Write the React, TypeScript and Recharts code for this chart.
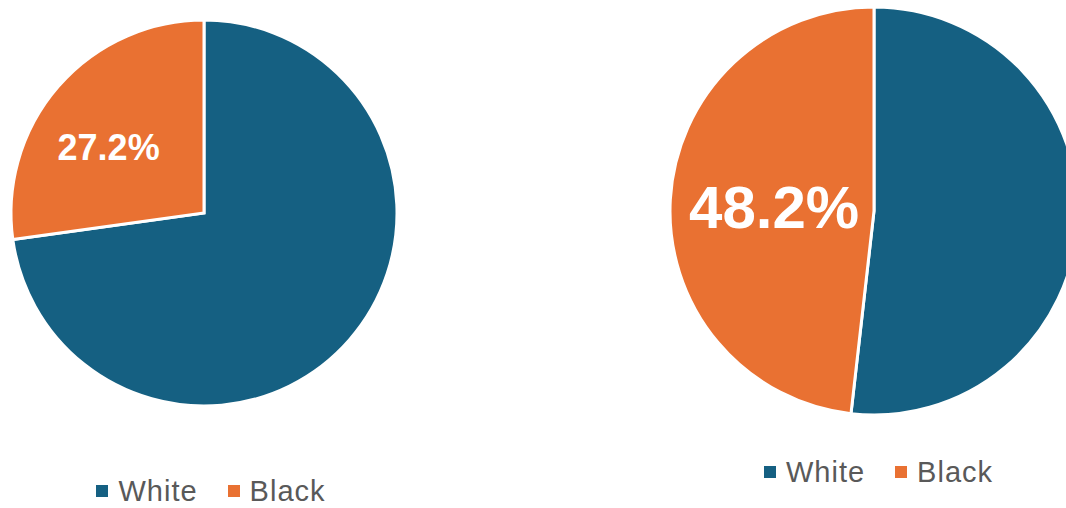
import { Cell, Legend, Pie, PieChart } from 'recharts';

const categories = ['White', 'Black'];
const leftValues = [72.8, 27.2];
const rightValues = [51.8, 48.2];
const colors = ['#156082', '#E97132'];

const RAD = Math.PI / 180;

function makeLabel(fraction: number, angleShift: number, fontSize: number) {
  return (props: any) => {
    const { cx, cy, midAngle, outerRadius, payload } = props;
    if (payload.name !== 'Black') return null;
    const r = outerRadius * fraction;
    const a = midAngle + angleShift;
    const x = cx + r * Math.cos(-a * RAD);
    const y = cy + r * Math.sin(-a * RAD);
    return (
      <text
        x={x}
        y={y}
        fill="#ffffff"
        fontSize={fontSize}
        fontWeight={700}
        fontFamily="Liberation Sans, Arial, sans-serif"
        textAnchor="middle"
        dominantBaseline="central"
      >
        {payload.value.toFixed(1)}%
      </text>
    );
  };
}

function LegendContent() {
  return (
    <div style={{ display: 'flex', justifyContent: 'center', gap: 30 }}>
      {categories.map((name, i) => (
        <div key={name} style={{ display: 'flex', alignItems: 'center' }}>
          <span style={{ width: 12, height: 12, background: colors[i], marginRight: 10, display: 'inline-block' }} />
          <span
            style={{
              color: '#595959',
              fontSize: 29,
              letterSpacing: 1,
              fontFamily: 'Liberation Sans, Arial, sans-serif',
              lineHeight: '22px',
            }}
          >
            {name}
          </span>
        </div>
      ))}
    </div>
  );
}

function SinglePie({
  values,
  width,
  cx,
  cy,
  radius,
  fraction,
  angleShift,
  fontSize,
  legendTop,
  legendWidth,
}: {
  values: number[];
  width: number;
  cx: number;
  cy: number;
  radius: number;
  fraction: number;
  angleShift: number;
  fontSize: number;
  legendTop: number;
  legendWidth: number;
}) {
  const data = categories.map((name, i) => ({ name, value: values[i] }));
  return (
    <PieChart width={width} height={508} margin={{ top: 0, right: 0, bottom: 0, left: 0 }}>
      <Pie
        data={data}
        dataKey="value"
        nameKey="name"
        cx={cx}
        cy={cy}
        outerRadius={radius}
        startAngle={90}
        endAngle={-270}
        stroke="#ffffff"
        strokeWidth={3}
        label={makeLabel(fraction, angleShift, fontSize)}
        labelLine={false}
        isAnimationActive={false}
      >
        {data.map((d, i) => (
          <Cell key={d.name} fill={colors[i]} />
        ))}
      </Pie>
      <Legend
        content={<LegendContent />}
        wrapperStyle={{ position: 'absolute', top: legendTop, left: 0, width: legendWidth }}
      />
    </PieChart>
  );
}

export default function App() {
  return (
    <div
      style={{
        position: 'absolute',
        left: 0,
        top: 0,
        width: 1066,
        height: 508,
        overflow: 'hidden',
        background: '#ffffff',
      }}
    >
      <div style={{ position: 'absolute', left: 0, top: 0 }}>
        <SinglePie
          values={leftValues}
          width={420}
          cx={204}
          cy={213}
          radius={193}
          fraction={0.6}
          angleShift={6.5}
          fontSize={36}
          legendTop={480}
          legendWidth={422}
        />
      </div>
      <div style={{ position: 'absolute', left: 640, top: 0 }}>
        <SinglePie
          values={rightValues}
          width={426}
          cx={234}
          cy={211}
          radius={204}
          fraction={0.49}
          angleShift={1.5}
          fontSize={60}
          legendTop={461}
          legendWidth={477}
        />
      </div>
    </div>
  );
}
